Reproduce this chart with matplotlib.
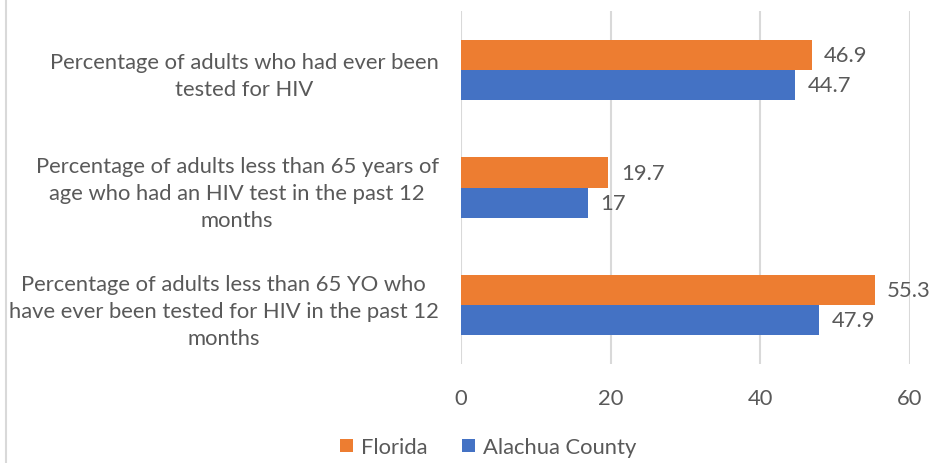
import numpy as np
import matplotlib.pyplot as plt

plt.rcParams['font.family'] = ['Lato', 'DejaVu Sans']

categories = ['Percentage of adults who had ever been\ntested for HIV',
              'Percentage of adults less than 65 years of\nage who had an HIV test in the past 12\nmonths',
              'Percentage of adults less than 65 YO who\nhave ever been tested for HIV in the past 12\nmonths']
florida = [46.9, 19.7, 55.3]
alachua = [44.7, 17, 47.9]
florida_labels = ['46.9', '19.7', '55.3']
alachua_labels = ['44.7', '17', '47.9']
xticks = [0, 20, 40, 60]

orange = '#ED7D31'
blue = '#4472C4'
txt = '#595959'
fs = 15.8

fig = plt.figure(figsize=(9.35, 4.64), dpi=100)
ax = fig.add_axes([0.493, 0.213, 0.48, 0.761])

y = np.arange(len(categories))
h = 0.256
b1 = ax.barh(y - h/2, florida, height=h, color=orange, label='Florida')
b2 = ax.barh(y + h/2, alachua, height=h, color=blue, label='Alachua County')
ax.bar_label(b1, labels=florida_labels, padding=9, fontsize=fs, color=txt)
ax.bar_label(b2, labels=alachua_labels, padding=9, fontsize=fs, color=txt)

ax.set_ylim(2.5, -0.5)
ax.set_xlim(0, 60)
ax.set_xticks(xticks)
ax.set_xticklabels([str(v) for v in xticks], fontsize=fs, color=txt)
ax.set_yticks(y)
ax.set_yticklabels(categories, fontsize=fs, color=txt, multialignment='center',
                   linespacing=1.45)
ax.tick_params(axis='y', length=0, pad=16)
ax.tick_params(axis='x', length=0, pad=17)
for s in ax.spines.values():
    s.set_visible(False)
ax.grid(axis='x', color='#d9d9d9', linewidth=1.5)
ax.set_axisbelow(True)

fig.legend(handles=[b1, b2], loc='center', bbox_to_anchor=(0.522, 0.034), ncol=2,
           frameon=False, fontsize=fs, labelcolor=txt, handlelength=0.6, handleheight=0.6,
           handletextpad=0.35, columnspacing=1.6)

fig.add_artist(plt.Line2D([0.006, 0.006], [0, 1], color='#d9d9d9', linewidth=1.5,
                          transform=fig.transFigure))

fig.savefig('out.png', dpi=100)
